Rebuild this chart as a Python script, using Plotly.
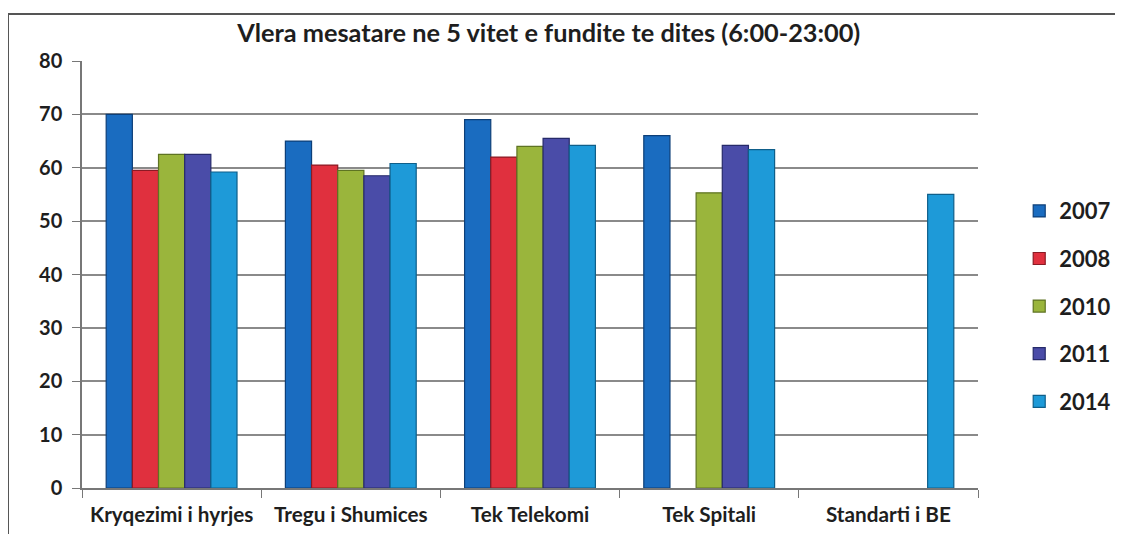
import plotly.graph_objects as go

# Average values, day time (6:00-23:00)
categories = ["Kryqezimi i hyrjes", "Tregu i Shumices", "Tek Telekomi", "Tek Spitali", "Standarti i BE"]
years = ["2007", "2008", "2010", "2011", "2014"]

vals_2007 = [70, 65, 69, 66, None]
vals_2008 = [59.5, 60.5, 62, None, None]
vals_2010 = [62.5, 59.5, 64, 55.3, None]
vals_2011 = [62.5, 58.5, 65.5, 64.2, None]
vals_2014 = [59.2, 60.8, 64.2, 63.4, 55]

series = [vals_2007, vals_2008, vals_2010, vals_2011, vals_2014]
colors = ["#1a6cc0", "#e0303e", "#9ab53c", "#4a4ca8", "#1e9ad8"]
edges = ["#0d3f78", "#8a1a24", "#5e7322", "#262a6a", "#0f5f8a"]

FONT = "Lato"
TXT = "#1e1e1e"

fig = go.Figure()
for year, vals, col, edge in zip(years, series, colors, edges):
    fig.add_trace(go.Bar(
        x=categories, y=vals, name=year,
        marker=dict(color=col, line=dict(color=edge, width=1.2)),
        legendgroup=year,
    ))

fig.update_layout(
    width=1115, height=526,
    paper_bgcolor="white", plot_bgcolor="white",
    margin=dict(l=74, r=145, t=53, b=46, autoexpand=False),
    barmode="group", bargap=0.27, bargroupgap=0,
    font=dict(family=FONT, size=20, color=TXT),
    title=dict(
        text="<b>Vlera mesatare ne 5 vitet e fundite te dites (6:00-23:00)</b>",
        x=0.485, xanchor="center", y=0.952, yanchor="middle",
        font=dict(family=FONT, size=25.3, color=TXT),
    ),
    legend=dict(
        x=1.046, xanchor="left", y=0.426, yanchor="middle",
        font=dict(family=FONT, size=22, color=TXT, weight="bold"),
        traceorder="grouped", tracegroupgap=16,
        itemwidth=30,
    ),
    showlegend=True,
)

fig.update_yaxes(
    range=[0, 80], dtick=10,
    showgrid=True, gridcolor="#8a8a8a", gridwidth=1.5,
    showline=True, linecolor="#777777", linewidth=1.5,
    ticks="outside", ticklen=8, tickcolor="#777777",
    ticklabelstandoff=6,
    tickfont=dict(family=FONT, size=20, color=TXT, weight="bold"),
    zeroline=False,
)
fig.update_xaxes(
    showline=True, linecolor="#777777", linewidth=1.5,
    ticks="outside", ticklen=8, tickcolor="#777777", tickson="boundaries",
    ticklabelstandoff=7,
    tickfont=dict(family=FONT, size=20.7, color=TXT, weight="bold"),
)

# outer chart frame
fig.add_shape(
    type="rect", xref="paper", yref="paper",
    x0=-0.0826, x1=1.25, y0=-0.3, y1=1.11,
    line=dict(color="#555555", width=2), fillcolor="rgba(0,0,0,0)",
    layer="below",
)

fig.write_html("out.html")
